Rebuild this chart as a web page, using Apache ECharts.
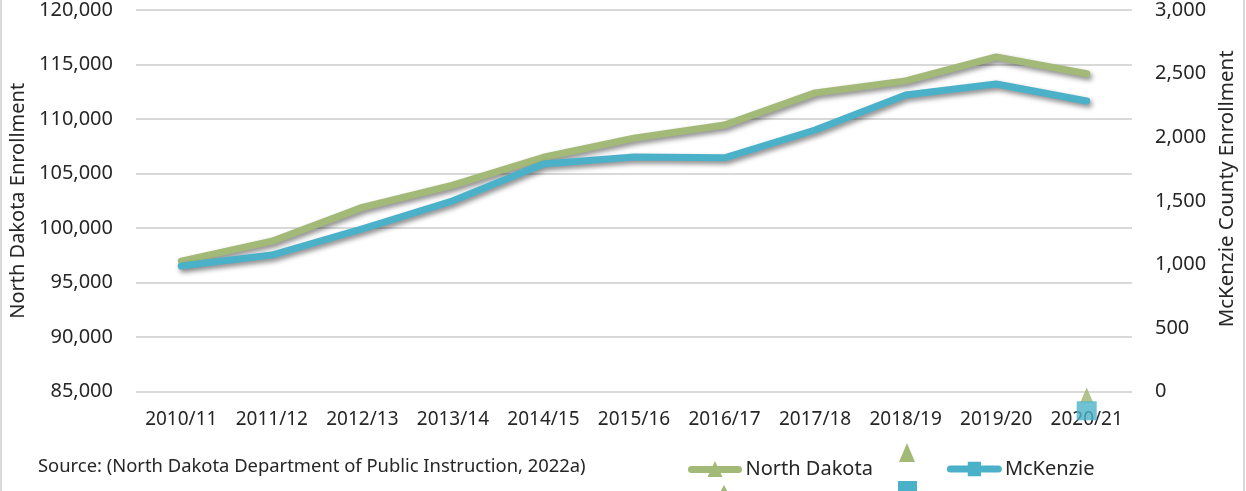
<!DOCTYPE html>
<html>
<head>
<meta charset="utf-8">
<script src="https://cdn.jsdelivr.net/npm/echarts@6/dist/echarts.min.js"></script>
<style>
html,body{margin:0;padding:0;background:#fff;}
#chart{width:1246px;height:491px;}
</style>
</head>
<body>
<div id="chart"></div>
<script>
var categories = ['2010/11','2011/12','2012/13','2013/14','2014/15','2015/16','2016/17','2017/18','2018/19','2019/20','2020/21'];
var northDakota = [96980, 98800, 101900, 103950, 106500, 108250, 109450, 112400, 113500, 115700, 114150];
var mcKenzie = [988, 1074, 1279, 1500, 1790, 1845, 1838, 2057, 2332, 2418, 2285];
var strayTriangle = [['2020/21', 84700]];
var straySquare = [['2020/21', -150]];
var leftTicks = {min: 85000, max: 120000, interval: 5000};
var rightTicks = {min: 0, max: 3000, interval: 500};

var GREEN = '#a3b977';
var BLUE = '#4bb1c9';
var FONT = 'Noto Sans';
var TXT = '#262626';

// legend icons: thick rounded bar with a marker in the middle (55 x 16 box)
var ICON_TRI = 'path://M4,5 L51,5 A3.5,3.5 0 0 1 51,12 L4,12 A3.5,3.5 0 0 1 4,5 Z M27.5,0 L35,16 L20,16 Z';
var ICON_SQ = 'path://M4,5 L51,5 A3.5,3.5 0 0 1 51,12 L4,12 A3.5,3.5 0 0 1 4,5 Z M21,1.5 L34,1.5 L34,15.5 L21,15.5 Z';

var chart = echarts.init(document.getElementById('chart'), null, {renderer: 'canvas'});
var shadow = {shadowColor: 'rgba(0,0,0,0.45)', shadowBlur: 5, shadowOffsetX: 2, shadowOffsetY: 3};

chart.setOption({
  animation: false,
  backgroundColor: '#fff',
  textStyle: {fontFamily: FONT},
  grid: {left: 136, right: 111, top: 10, bottom: 99.3, containLabel: false},
  legend: {
    left: 683, top: 454,
    itemWidth: 55, itemHeight: 16, itemGap: 74,
    textStyle: {fontFamily: FONT, fontSize: 20, color: TXT, padding: [0, 0, 0, -2]},
    data: [
      {name: 'North Dakota', icon: ICON_TRI},
      {name: 'McKenzie', icon: ICON_SQ}
    ]
  },
  xAxis: {
    type: 'category',
    data: categories,
    boundaryGap: true,
    axisLine: {show: false},
    axisTick: {show: false},
    axisLabel: {fontSize: 19, color: TXT, margin: 18, interval: 0, fontFamily: FONT}
  },
  yAxis: [{
    type: 'value',
    min: leftTicks.min, max: leftTicks.max, interval: leftTicks.interval,
    position: 'left',
    name: 'North Dakota Enrollment',
    nameLocation: 'middle',
    nameGap: 106,
    nameTextStyle: {fontSize: 20, color: TXT, fontFamily: FONT},
    axisLine: {show: false},
    axisTick: {show: false},
    splitLine: {lineStyle: {color: '#d9d9d9', width: 2}},
    axisLabel: {fontSize: 20, color: TXT, margin: 23, fontFamily: FONT,
      formatter: function (v) { return v.toLocaleString('en-US'); }}
  }, {
    type: 'value',
    min: rightTicks.min, max: rightTicks.max, interval: rightTicks.interval,
    position: 'right',
    name: 'McKenzie County Enrollment',
    nameLocation: 'middle',
    nameRotate: 90,
    nameGap: 80,
    nameTextStyle: {fontSize: 20.5, color: TXT, fontFamily: FONT, padding: [0, 0, 0, 24]},
    axisLine: {show: false},
    axisTick: {show: false},
    splitLine: {show: false},
    axisLabel: {fontSize: 20, color: TXT, margin: 23, fontFamily: FONT,
      formatter: function (v) { return v.toLocaleString('en-US'); }}
  }],
  series: [{
    name: 'North Dakota',
    type: 'line',
    yAxisIndex: 0,
    data: northDakota,
    symbol: 'triangle',
    symbolSize: 14,
    showSymbol: false,
    itemStyle: {color: GREEN},
    lineStyle: Object.assign({color: GREEN, width: 7, cap: 'round', join: 'round'}, shadow),
    z: 3
  }, {
    name: 'McKenzie',
    type: 'line',
    yAxisIndex: 1,
    data: mcKenzie,
    symbol: 'rect',
    symbolSize: 14,
    showSymbol: false,
    itemStyle: {color: BLUE},
    lineStyle: Object.assign({color: BLUE, width: 7, cap: 'round', join: 'round'}, shadow),
    z: 4
  }, {
    name: 'stray-tri',
    type: 'scatter',
    yAxisIndex: 0,
    data: strayTriangle,
    symbol: 'triangle',
    symbolSize: [13, 15],
    clip: false,
    itemStyle: {color: '#9fb46f'},
    z: 5
  }, {
    name: 'stray-sq',
    type: 'scatter',
    yAxisIndex: 1,
    data: straySquare,
    symbol: 'rect',
    symbolSize: [20, 19],
    clip: false,
    itemStyle: {color: BLUE},
    z: 6
  }],
  graphic: [
    {type: 'rect', shape: {x: 0, y: 0, width: 2, height: 491}, style: {fill: '#d9d9d9'}, silent: true},
    {type: 'rect', shape: {x: 1243, y: 0, width: 2, height: 491}, style: {fill: '#d9d9d9'}, silent: true},
    {type: 'text', left: 38, top: 458, style: {text: 'Source: (North Dakota Department of Public Instruction, 2022a)', font: '18.4px "Noto Sans"', fill: TXT}},
    {type: 'polygon', shape: {points: [[907, 443], [899, 462], [915, 462]]}, style: {fill: '#a3b977'}},
    {type: 'rect', shape: {x: 898, y: 481, width: 19, height: 12}, style: {fill: BLUE}},
    {type: 'polygon', shape: {points: [[724, 485], [717, 498], [731, 498]]}, style: {fill: '#a3b977'}}
  ]
});
</script>
</body>
</html>
